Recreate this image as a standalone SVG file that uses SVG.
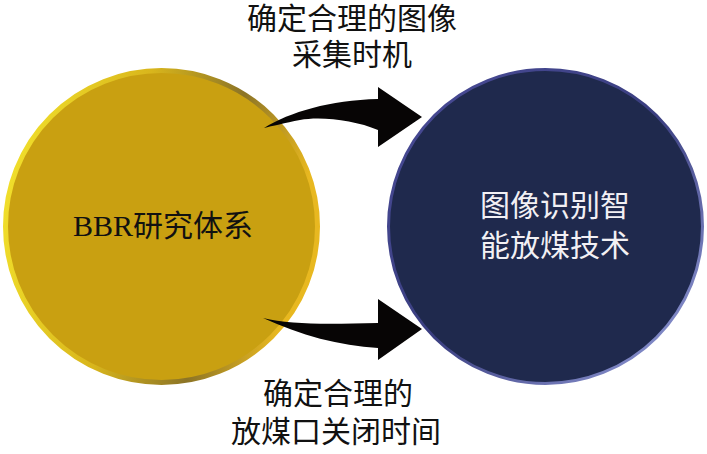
<svg xmlns="http://www.w3.org/2000/svg" width="707" height="454" viewBox="0 0 707 454">
<defs>
<linearGradient id="goldRim" x1="0" y1="0" x2="1" y2="0.2">
<stop offset="0" stop-color="#F5E62E"/>
<stop offset="0.45" stop-color="#D9B61C"/>
<stop offset="0.75" stop-color="#8C7426"/>
<stop offset="1" stop-color="#E8B820"/>
</linearGradient>
<linearGradient id="navyRim" x1="0" y1="0" x2="1" y2="1">
<stop offset="0" stop-color="#4A4C98"/>
<stop offset="0.5" stop-color="#3A3E80"/>
<stop offset="1" stop-color="#9AA4E0"/>
</linearGradient>
<style>
.lbl{font-family:"Liberation Serif","Noto Sans CJK SC",serif;font-size:30px;fill:#111;text-anchor:middle}
.inner{font-family:"Liberation Serif","Noto Sans CJK SC",serif;font-size:30px;text-anchor:middle}
.arrow{fill:#070505}
</style>
</defs>
<g id="node-bbr">
<circle cx="161.5" cy="226.5" r="156" fill="#C9A011" stroke="url(#goldRim)" stroke-width="5"/>
<text class="inner" x="163" y="236" fill="#111">BBR研究体系</text>
</g>
<g id="node-image">
<circle cx="545.5" cy="226.5" r="157" fill="#1F294D" stroke="url(#navyRim)" stroke-width="3"/>
<text class="inner" x="555" y="216" fill="#F2F0F4">图像识别智</text>
<text class="inner" x="555" y="256" fill="#F2F0F4">能放煤技术</text>
</g>
<g id="connectors">
<path class="arrow" d="M264,128 C290,112 330,100 378,99 L378,87 L422,117 L378,147 L378,130 C355,120 320,116 300,120 C285,123 272,126 264,128 Z"/>
<path class="arrow" d="M263,318 C290,325 330,324 378,323 L378,299 L422,329 L378,360 L378,348 C340,346 300,335 263,318 Z"/>
</g>
<g id="labels">
<text class="lbl" x="352" y="29">确定合理的图像</text>
<text class="lbl" x="352" y="65">采集时机</text>
<text class="lbl" x="338" y="404">确定合理的</text>
<text class="lbl" x="336" y="442">放煤口关闭时间</text>
</g>
</svg>
